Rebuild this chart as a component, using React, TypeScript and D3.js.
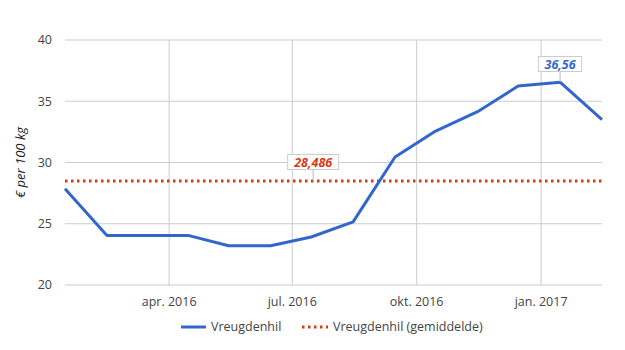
import React from "react";
import * as d3 from "d3";

const dates = [
  "2016-01-15", "2016-02-15", "2016-03-15", "2016-04-15", "2016-05-15", "2016-06-15",
  "2016-07-15", "2016-08-15", "2016-09-15", "2016-10-15", "2016-11-15", "2016-12-15",
  "2017-01-15", "2017-02-15",
];
const values = [27.85, 24.05, 24.05, 24.05, 23.2, 23.2, 23.92, 25.15, 30.45, 32.57, 34.15, 36.24, 36.56, 33.5];
const average = 28.486;
const yTicks = [20, 25, 30, 35, 40];
const xTicks = ["2016-04-01", "2016-07-01", "2016-10-01", "2017-01-01"];
const xTickLabels = ["apr. 2016", "jul. 2016", "okt. 2016", "jan. 2017"];
const seriesName = "Vreugdenhil";
const avgName = "Vreugdenhil (gemiddelde)";
const yTitle = "€ per 100 kg";
const maxLabel = "36,56";
const avgLabel = "28,486";

const W = 625, H = 350;
const left = 65, right = 602, top = 40, bottom = 285;
const FONT = "'Open Sans', sans-serif";

export default function App() {
  const parse = d3.utcParse("%Y-%m-%d");
  const pts = dates.map((d, i) => ({ date: parse(d)!, v: values[i] }));
  const x = d3.scaleUtc().domain([pts[0].date, pts[pts.length - 1].date]).range([left, right]);
  const y = d3.scaleLinear().domain([20, 40]).range([bottom, top]);
  const line = d3.line<{ date: Date; v: number }>().x(d => x(d.date)).y(d => y(d.v));

  const maxIdx = values.indexOf(d3.max(values)!);
  const maxX = x(pts[maxIdx].date), maxY = y(values[maxIdx]);
  const avgX = x(pts[6].date) + 2, avgY = y(average);

  return (
    <svg width={W} height={H} style={{ position: "absolute", left: 0, top: 0 }}>
      <rect width={W} height={H} fill="#fff" />
      {yTicks.map(t => (
        <g key={t}>
          <line x1={left} x2={right} y1={y(t)} y2={y(t)} stroke="#cccccc" strokeWidth={1} />
          <text x={52} y={y(t)} dy="0.35em" textAnchor="end" fontFamily={FONT} fontSize={12.5} fill="#444">{t}</text>
        </g>
      ))}
      {xTicks.map((t, i) => (
        <g key={t}>
          <line x1={x(parse(t)!)} x2={x(parse(t)!)} y1={top} y2={bottom} stroke="#cccccc" strokeWidth={1} />
          <text x={x(parse(t)!)} y={302} dy="0.35em" textAnchor="middle" fontFamily={FONT} fontSize={12.5} fill="#444">{xTickLabels[i]}</text>
        </g>
      ))}
      <text transform={`translate(20,${(top + bottom) / 2}) rotate(-90)`} textAnchor="middle" dy="0.35em" fontFamily={FONT} fontStyle="italic" fontSize={13} fill="#222">{yTitle}</text>

      <line x1={left} x2={right} y1={avgY} y2={avgY} stroke="#dc3912" strokeWidth={3} strokeDasharray="2.5,3.5" />
      <path d={line(pts)!} fill="none" stroke="#3366cc" strokeWidth={3} strokeLinejoin="round" />

      {/* max annotation */}
      <line x1={maxX} x2={maxX} y1={71} y2={maxY} stroke="#bbbbbb" strokeWidth={1} />
      <rect x={maxX - 21.5} y={56.5} width={43} height={15} fill="#fff" stroke="#cccccc" />
      <text x={maxX} y={64} dy="0.36em" textAnchor="middle" fontFamily={FONT} fontStyle="italic" fontWeight="bold" fontSize={12.5} fill="#3366cc">{maxLabel}</text>

      {/* average annotation */}
      <line x1={avgX} x2={avgX} y1={169} y2={avgY} stroke="#bbbbbb" strokeWidth={1} />
      <rect x={avgX - 25.5} y={154.5} width={51} height={15} fill="#fff" stroke="#cccccc" />
      <text x={avgX} y={162} dy="0.36em" textAnchor="middle" fontFamily={FONT} fontStyle="italic" fontWeight="bold" fontSize={12.5} fill="#dc3912">{avgLabel}</text>

      {/* legend */}
      <line x1={181} x2={206} y1={327} y2={327} stroke="#3366cc" strokeWidth={3} />
      <text x={211} y={327} dy="0.35em" fontFamily={FONT} fontSize={12.5} fill="#444">{seriesName}</text>
      <line x1={302} x2={328} y1={327} y2={327} stroke="#dc3912" strokeWidth={3} strokeDasharray="2.5,3.5" />
      <text x={333} y={327} dy="0.35em" fontFamily={FONT} fontSize={12.5} fill="#444">{avgName}</text>
    </svg>
  );
}
